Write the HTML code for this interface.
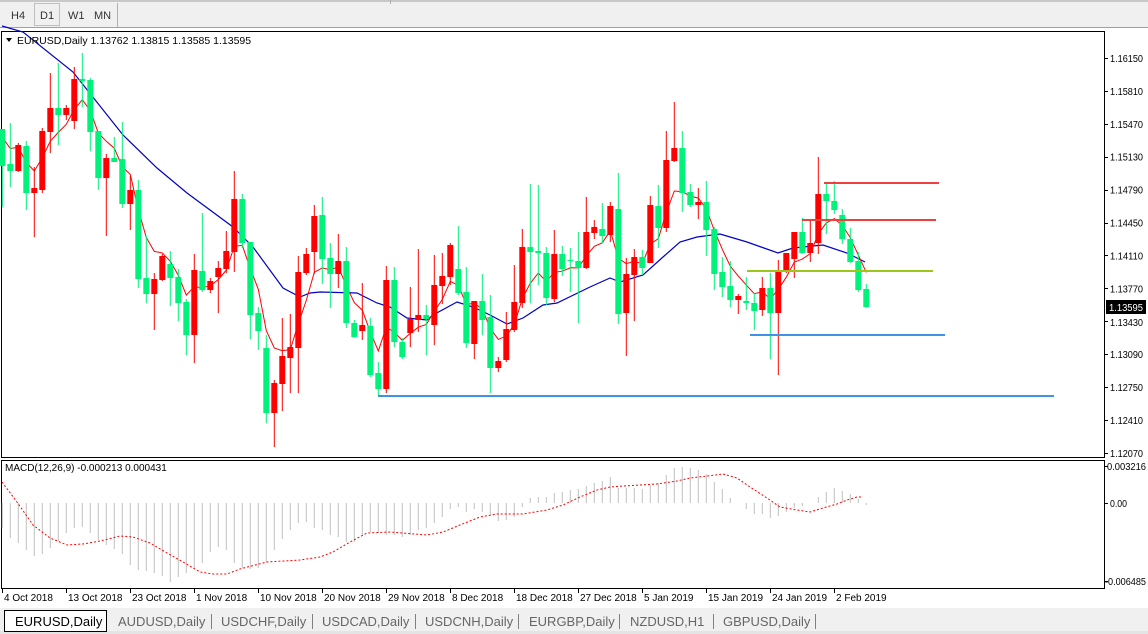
<!DOCTYPE html>
<html><head><meta charset="utf-8">
<style>
html,body{margin:0;padding:0;width:1148px;height:634px;overflow:hidden;background:#fff;font-family:"Liberation Sans",sans-serif;}
svg{display:block}
</style></head><body>
<svg id="s" width="1148" height="634" xmlns="http://www.w3.org/2000/svg" font-family="Liberation Sans, sans-serif">
<rect x="0" y="0" width="1148" height="28" fill="#f0f0f0"/>
<rect x="0" y="0" width="1148" height="2" fill="#c8c8c8"/>
<line x1="0" y1="27.5" x2="1148" y2="27.5" stroke="#a0a0a0"/>
<rect x="34.5" y="3.5" width="25" height="22" fill="#f0f0f0" stroke="#c0c0c0"/>
<text x="11" y="19" font-size="11" fill="#333">H4</text>
<text x="40" y="19" font-size="11" fill="#333">D1</text>
<text x="68" y="19" font-size="11" fill="#333">W1</text>
<text x="94" y="19" font-size="11" fill="#333">MN</text>
<line x1="117.5" y1="3" x2="117.5" y2="27" stroke="#b0b0b0"/>
<line x1="390.5" y1="0" x2="390.5" y2="4" stroke="#b0b0b0"/>
<rect x="1.5" y="31.5" width="1103" height="426" fill="#fff" stroke="#000"/>
<rect x="1.5" y="460.5" width="1103" height="128" fill="#fff" stroke="#000"/>
<g id="g"></g>
</svg>
<script>
var NS="http://www.w3.org/2000/svg",G=document.getElementById("g");
function el(t,a,txt){var e=document.createElementNS(NS,t);for(var k in a)e.setAttribute(k,a[k]);if(txt!==undefined)e.textContent=txt;G.appendChild(e);return e;}
var C=[[129,129,166,207,'g'],[123,164,171,187,'g'],[143,145,171,172,'r'],[141,146,193,210,'g'],[167,188,193,237,'r'],[128,131,190,193,'r'],[73,108,132,153,'r'],[63,108,115,145,'g'],[105,108,115,120,'r'],[67,79,121,129,'r'],[53,79,81,107,'g'],[78,80,132,151,'g'],[131,131,178,190,'g'],[154,158,178,236,'r'],[137,158,162,162,'g'],[122,159,204,208,'g'],[176,190,204,230,'r'],[180,190,279,288,'g'],[236,278,294,303,'g'],[273,279,294,330,'r'],[254,256,280,281,'r'],[251,264,278,306,'g'],[269,277,303,321,'g'],[299,302,335,355,'g'],[254,270,335,363,'r'],[213,271,290,292,'g'],[278,281,290,293,'r'],[261,268,277,313,'r'],[231,251,269,273,'r'],[171,199,252,272,'r'],[194,199,243,248,'g'],[242,242,315,339,'g'],[307,313,331,350,'g'],[335,348,413,423,'g'],[380,383,413,447,'r'],[318,356,384,411,'r'],[314,347,358,393,'r'],[256,272,348,393,'r'],
[248,254,273,275,'r'],[205,216,252,274,'r'],[197,215,259,284,'g'],[243,258,274,308,'g'],[234,261,274,288,'r'],[247,261,323,328,'g'],[320,323,337,338,'g'],[283,325,331,340,'r'],[318,326,375,377,'g'],[362,373,389,395,'g'],[266,280,389,393,'r'],[267,280,342,347,'g'],[338,342,357,359,'g'],[287,319,333,347,'r'],[249,315,320,332,'r'],[305,315,319,355,'g'],[255,285,325,345,'r'],[253,276,286,304,'r'],[243,245,277,285,'r'],[226,269,293,295,'g'],[267,292,343,348,'g'],[301,301,344,359,'r'],[274,301,320,335,'g'],[295,317,368,393,'g'],[357,361,368,372,'r'],[312,329,360,362,'r'],[265,302,330,332,'r'],[229,247,303,308,'r'],[184,247,252,303,'g'],[185,251,253,285,'g'],[247,253,298,305,'g'],[230,254,299,302,'r'],[246,254,269,276,'g'],[248,260,261,292,'g'],[232,261,268,323,'g'],[197,232,268,269,'r'],
[220,227,233,239,'r'],[203,229,236,243,'g'],[202,206,235,242,'r'],[173,209,314,324,'g'],[258,274,313,356,'r'],[249,257,275,321,'r'],[250,257,268,275,'g'],[196,205,263,263,'r'],[185,206,228,248,'g'],[131,160,228,232,'r'],[102,148,161,162,'r'],[131,148,193,212,'g'],[184,192,205,207,'g'],[188,202,205,219,'r'],[181,202,230,256,'g'],[227,229,274,290,'g'],[257,272,287,297,'g'],[261,286,300,307,'g'],[294,296,300,314,'r'],[277,301,303,310,'g'],[293,303,311,330,'g'],[277,288,310,316,'r'],[273,288,313,359,'g'],[260,270,313,375,'r'],[253,253,271,273,'r'],[232,232,259,278,'r'],[218,232,253,254,'g'],[219,243,253,262,'r'],[157,194,243,254,'r'],[183,194,201,234,'g'],[181,201,210,214,'g'],[209,215,239,244,'g'],[228,239,262,263,'g'],[252,261,290,292,'g'],[284,289,307,308,'g']];
function X(i){return 2.3+8*i;}
var blue=[[2,26],[23,32],[73,72],[123,135],[157,168],[187,193],[233,227],[253,247],[283,288],[300,297],[310,293],[320,292],[357,293],[377,303],[390,307],[407,318],[427,320],[433,315],[457,302],[473,307],[490,315],[507,324],[523,318],[543,305],[557,303],[590,287],[610,278],[620,282],[643,275],[663,257],[680,242],[697,237],[720,234],[747,242],[778,253],[793,248],[823,245],[847,253],[865,262]];
el("polyline",{points:blue.map(p=>p.join(",")).join(" "),fill:"none",stroke:"#0000c8","stroke-width":1.2});
var e=118,pts=[];
for(var i=0;i<C.length;i++){var c=C[i],cl=c[4]=='g'?c[2]:c[1];e=i==0?(118*0.6+cl*0.4):e+(cl-e)/3;pts.push(X(i).toFixed(1)+","+e.toFixed(1));}
el("polyline",{points:pts.join(" "),fill:"none",stroke:"#ff0000","stroke-width":1});
for(var i=0;i<C.length;i++){var c=C[i],x=X(i),col=c[4]=='g'?"#00f27a":"#ff0000";
el("rect",{x:(x-0.5).toFixed(1),y:c[0],width:1,height:Math.max(1,c[3]-c[0]),fill:col});
el("rect",{x:(x-3).toFixed(1),y:c[1],width:6,height:Math.max(1,c[2]-c[1]),fill:col});}
el("rect",{x:378,y:395,width:676,height:2,fill:"#3f93e3"});
el("rect",{x:750,y:334,width:195,height:2,fill:"#3f93e3"});
el("rect",{x:747,y:270,width:186,height:2,fill:"#9cc61a"});
el("rect",{x:824,y:182,width:115,height:2,fill:"#ef4040"});
el("rect",{x:802,y:219,width:134,height:2,fill:"#ef4040"});
el("path",{d:"M6 38 L12 38 L9 42 Z",fill:"#000"});
el("text",{x:17,y:44,"font-size":"10.5",fill:"#000"},"EURUSD,Daily  1.13762 1.13815 1.13585 1.13595");
var lab=["1.16150","1.15810","1.15470","1.15130","1.14790","1.14450","1.14110","1.13770","1.13430","1.13090","1.12750","1.12410","1.12070"];
for(var k=0;k<lab.length;k++){var y=58+k*32.9;el("rect",{x:1105,y:Math.round(y),width:3,height:1,fill:"#000"});
var yy=k==8?326:(y+4);
el("text",{x:1110,y:yy.toFixed(1),"font-size":"10",fill:"#000",textLength:"33",lengthAdjust:"spacingAndGlyphs"},lab[k]);}
el("rect",{x:1106,y:300,width:40,height:14,fill:"#000"});
el("text",{x:1109,y:311,"font-size":"10",fill:"#fff",textLength:"34",lengthAdjust:"spacingAndGlyphs"},"1.13595");
var H=[528,538,543,550,556,554,548,541,533,528,527,533,540,545,549,554,565,570,571,573,576,582,577,573,568,563,552,547,550,563,568,569,568,562,550,539,530,523,522,528,530,535,537,542,542,535,532,533,535,
535,537,535,530,528,523,517,509,507,512,509,512,515,521,520,517,507,498,497,497,493,492,490,489,486,483,481,477,488,488,488,489,485,483,475,468,467,468,470,474,482,489,498,503,509,514,514,518,516,512,508,506,503,497,492,488,491,494,499,505];
for(var i=0;i<H.length&&i<C.length;i++){var y1=Math.min(503,H[i]),y2=Math.max(503,H[i]);if(y2-y1<1)continue;el("rect",{x:(X(i)-0.5).toFixed(1),y:y1,width:1,height:y2-y1,fill:"#c0c0c0"});}
var sig=[[2,482],[17,502],[33,525],[50,538],[67,545],[83,544],[100,541],[120,536],[133,537],[150,543],[167,553],[183,562],[200,572],[213,574],[227,574],[240,569],[267,562],[300,560],[320,557],[333,552],[350,542],[367,533],[390,532],[402,533],[427,535],[443,532],[460,525],[480,517],[497,514],[523,514],[547,510],[563,505],[580,497],[597,490],[610,487],[623,486],[657,484],[677,481],[690,478],[707,476],[723,474],[737,478],[750,487],[767,498],[780,507],[797,510],[810,512],[823,508],[837,504],[847,500],[857,497],[863,497]];
el("polyline",{points:sig.map(p=>p.join(",")).join(" "),fill:"none",stroke:"#ff0000","stroke-width":1,"stroke-dasharray":"2,2"});
el("text",{x:5,y:471,"font-size":"10",fill:"#000"},"MACD(12,26,9) -0.000213 0.000431");
[["0.003216",466,1107,39],["0.00",503,1110,17],["-0.006485",581,1105,41]].forEach(function(a){el("rect",{x:1105,y:a[1],width:3,height:1,fill:"#000"});el("text",{x:a[2],y:a[1]+4,"font-size":"10",fill:"#000",textLength:a[3],lengthAdjust:"spacingAndGlyphs"},a[0]);});
var D=["4 Oct 2018","13 Oct 2018","23 Oct 2018","1 Nov 2018","10 Nov 2018","20 Nov 2018","29 Nov 2018","8 Dec 2018","18 Dec 2018","27 Dec 2018","5 Jan 2019","15 Jan 2019","24 Jan 2019","2 Feb 2019"];
for(var k=0;k<D.length;k++){var x=2+64*k;el("rect",{x:x,y:589,width:1,height:4,fill:"#000"});el("text",{x:x+2,y:601,"font-size":"10",fill:"#000"},D[k]);}
el("rect",{x:0,y:608,width:1148,height:26,fill:"#f0f0f0"});
el("rect",{x:0,y:631,width:1148,height:3,fill:"#e4e4e4"});
el("rect",{x:4.5,y:610.5,width:102,height:21,fill:"#fff",stroke:"#000"});
el("text",{x:15,y:626,"font-size":"13",fill:"#000"},"EURUSD,Daily");
var T=[["AUDUSD,Daily",118],["USDCHF,Daily",221],["USDCAD,Daily",322],["USDCNH,Daily",425],["EURGBP,Daily",529],["NZDUSD,H1",630],["GBPUSD,Daily",723]];
T.forEach(function(t){el("text",{x:t[1],y:626,"font-size":"13",fill:"#666"},t[0]);});
[211,312,415,518,619,713,815].forEach(function(x){el("rect",{x:x,y:614,width:1,height:15,fill:"#808080"});});
</script>
</body></html>
